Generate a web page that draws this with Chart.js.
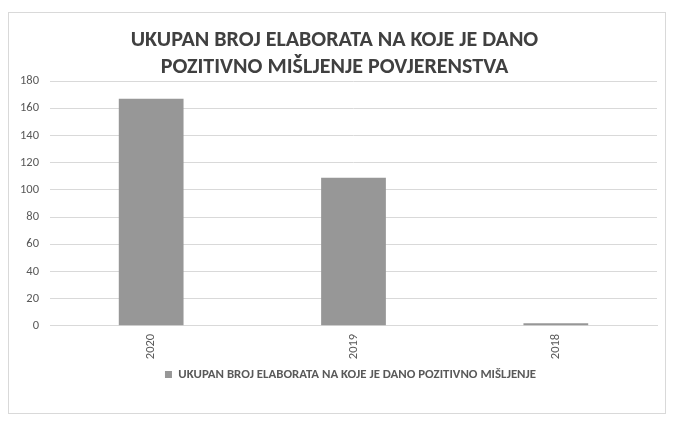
<!DOCTYPE html>
<html>
<head>
<meta charset="utf-8">
<script src="https://cdn.jsdelivr.net/npm/chart.js@4"></script>
<style>
  html, body { margin: 0; padding: 0; background: #fff; }
  #wrap { position: relative; width: 674px; height: 424px; }
  #frame { position: absolute; left: 8px; top: 12px; width: 658px; height: 402px; border: 1px solid #d9d9d9; box-sizing: border-box; pointer-events: none; }
</style>
</head>
<body>
<div id="wrap">
  <canvas id="c" width="674" height="424"></canvas>
  <div id="frame"></div>
</div>
<script>
const categories = ['2020', '2019', '2018'];
const values = [167, 109, 2];
const seriesName = 'UKUPAN BROJ ELABORATA NA KOJE JE DANO POZITIVNO MIŠLJENJE';
const titleLines = ['UKUPAN BROJ ELABORATA NA KOJE JE DANO', 'POZITIVNO MIŠLJENJE POVJERENSTVA'];
const yTicks = { min: 0, max: 180, step: 20 };

const font = "Carlito, 'Open Sans', 'Liberation Sans', sans-serif";
const grey = '#595959';

// legend sits a bit right of centre in the original
const nudgeLegend = {
  id: 'nudgeLegend',
  afterLayout(chart) {
    chart.legend.left += 16;
    chart.legend.right += 16;
  }
};

new Chart(document.getElementById('c'), {
  type: 'bar',
  data: {
    labels: categories,
    datasets: [{
      label: seriesName,
      data: values,
      backgroundColor: '#979797',
      barPercentage: 0.32,
      categoryPercentage: 1
    }]
  },
  options: {
    responsive: false,
    animation: false,
    layout: { padding: { left: 12, right: 17, top: 14, bottom: 33 } },
    plugins: {
      title: {
        display: true,
        text: titleLines,
        color: '#404040',
        font: { family: font, size: 22, weight: 'bold', lineHeight: 1.23 },
        padding: { top: 13, bottom: 0 }
      },
      legend: {
        position: 'bottom',
        labels: {
          boxWidth: 7,
          boxHeight: 7,
          padding: 1,
          color: grey,
          font: { family: font, size: 12.8, weight: 'bold' }
        }
      },
      tooltip: { enabled: false }
    },
    scales: {
      x: {
        grid: { display: false, drawTicks: false },
        border: { color: '#d9d9d9' },
        ticks: {
          color: grey,
          font: { family: font, size: 12.5 },
          maxRotation: 90,
          minRotation: 90,
          padding: 8
        }
      },
      y: {
        min: yTicks.min,
        max: yTicks.max,
        ticks: {
          stepSize: yTicks.step,
          color: grey,
          font: { family: font, size: 12.5 },
          padding: 11
        },
        grid: { color: '#d9d9d9', drawTicks: false },
        border: { display: false },
        afterFit(scale) { scale.width = 38; }
      }
    }
  },
  plugins: [nudgeLegend]
});
</script>
</body>
</html>
